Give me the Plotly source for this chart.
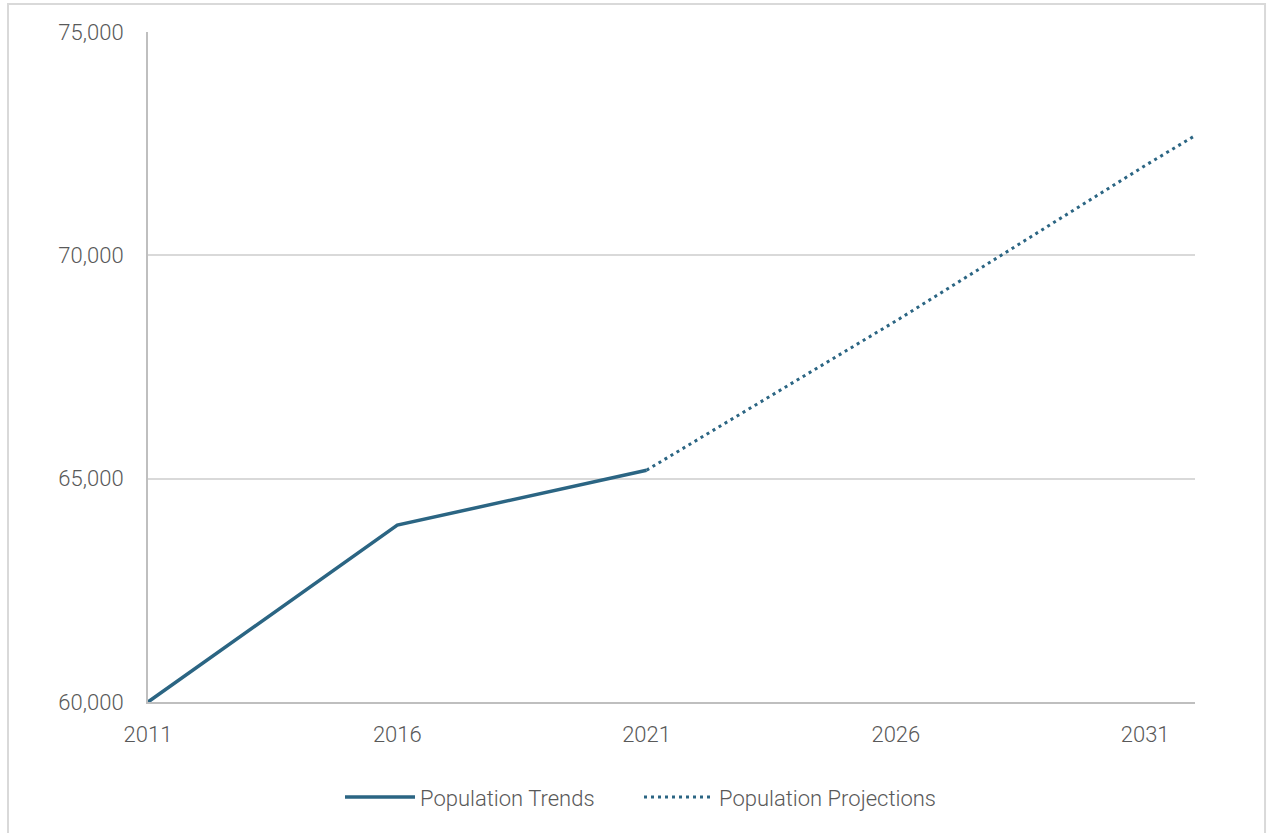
import plotly.graph_objects as go

trend_years = [2011, 2016, 2021]
trend_values = [60000, 63960, 65190]
proj_years = [2021, 2026, 2031, 2032]
proj_values = [65190, 68530, 72010, 72680]
x_ticks = [2011, 2016, 2021, 2026, 2031]
y_ticks = [60000, 65000, 70000, 75000]

color = "#2B6583"
text_color = "#595959"
font_family = "Roboto, Open Sans, sans-serif"

fig = go.Figure()
fig.add_trace(go.Scatter(x=trend_years, y=trend_values, mode="lines", name="Population Trends",
                         line=dict(color=color, width=3.5)))
fig.add_trace(go.Scatter(x=proj_years, y=proj_values, mode="lines", name="Population Projections",
                         line=dict(color=color, width=3, dash="3px,4px")))

fig.update_layout(
    width=1267, height=833,
    margin=dict(l=148, r=72, t=32, b=131),
    plot_bgcolor="white", paper_bgcolor="white",
    font=dict(family=font_family, color=text_color, size=22, weight=300),
    xaxis=dict(range=[2011, 2032], tickvals=x_ticks, ticktext=[str(v) for v in x_ticks],
               showgrid=False, showline=True, linecolor="#BFBFBF", linewidth=2,
               ticks="outside", ticklen=12, tickcolor="rgba(0,0,0,0)",
               tickfont=dict(size=22, color=text_color, weight=300), zeroline=False),
    yaxis=dict(range=[60000, 75000], tickvals=y_ticks, tickformat=",d",
               showgrid=True, gridcolor="#D9D9D9", gridwidth=1.5,
               showline=True, linecolor="#BFBFBF", linewidth=2, ticks="outside",
               ticklen=18, tickcolor="rgba(0,0,0,0)",
               tickfont=dict(size=22, color=text_color, weight=300), zeroline=False),
    legend=dict(orientation="h", x=(340 - 148) / 1047, xanchor="left", y=-0.142, yanchor="middle",
                font=dict(size=22, color=text_color, weight=300), itemwidth=70,
                entrywidth=214, entrywidthmode="pixels", tracegroupgap=0),
    showlegend=True,
    shapes=[dict(type="rect", xref="paper", yref="paper", x0=-0.1337, x1=1.0669, y0=-0.3, y1=1.0418,
                 line=dict(color="#D9D9D9", width=2), layer="below")],
)

fig.write_html("out.html")
